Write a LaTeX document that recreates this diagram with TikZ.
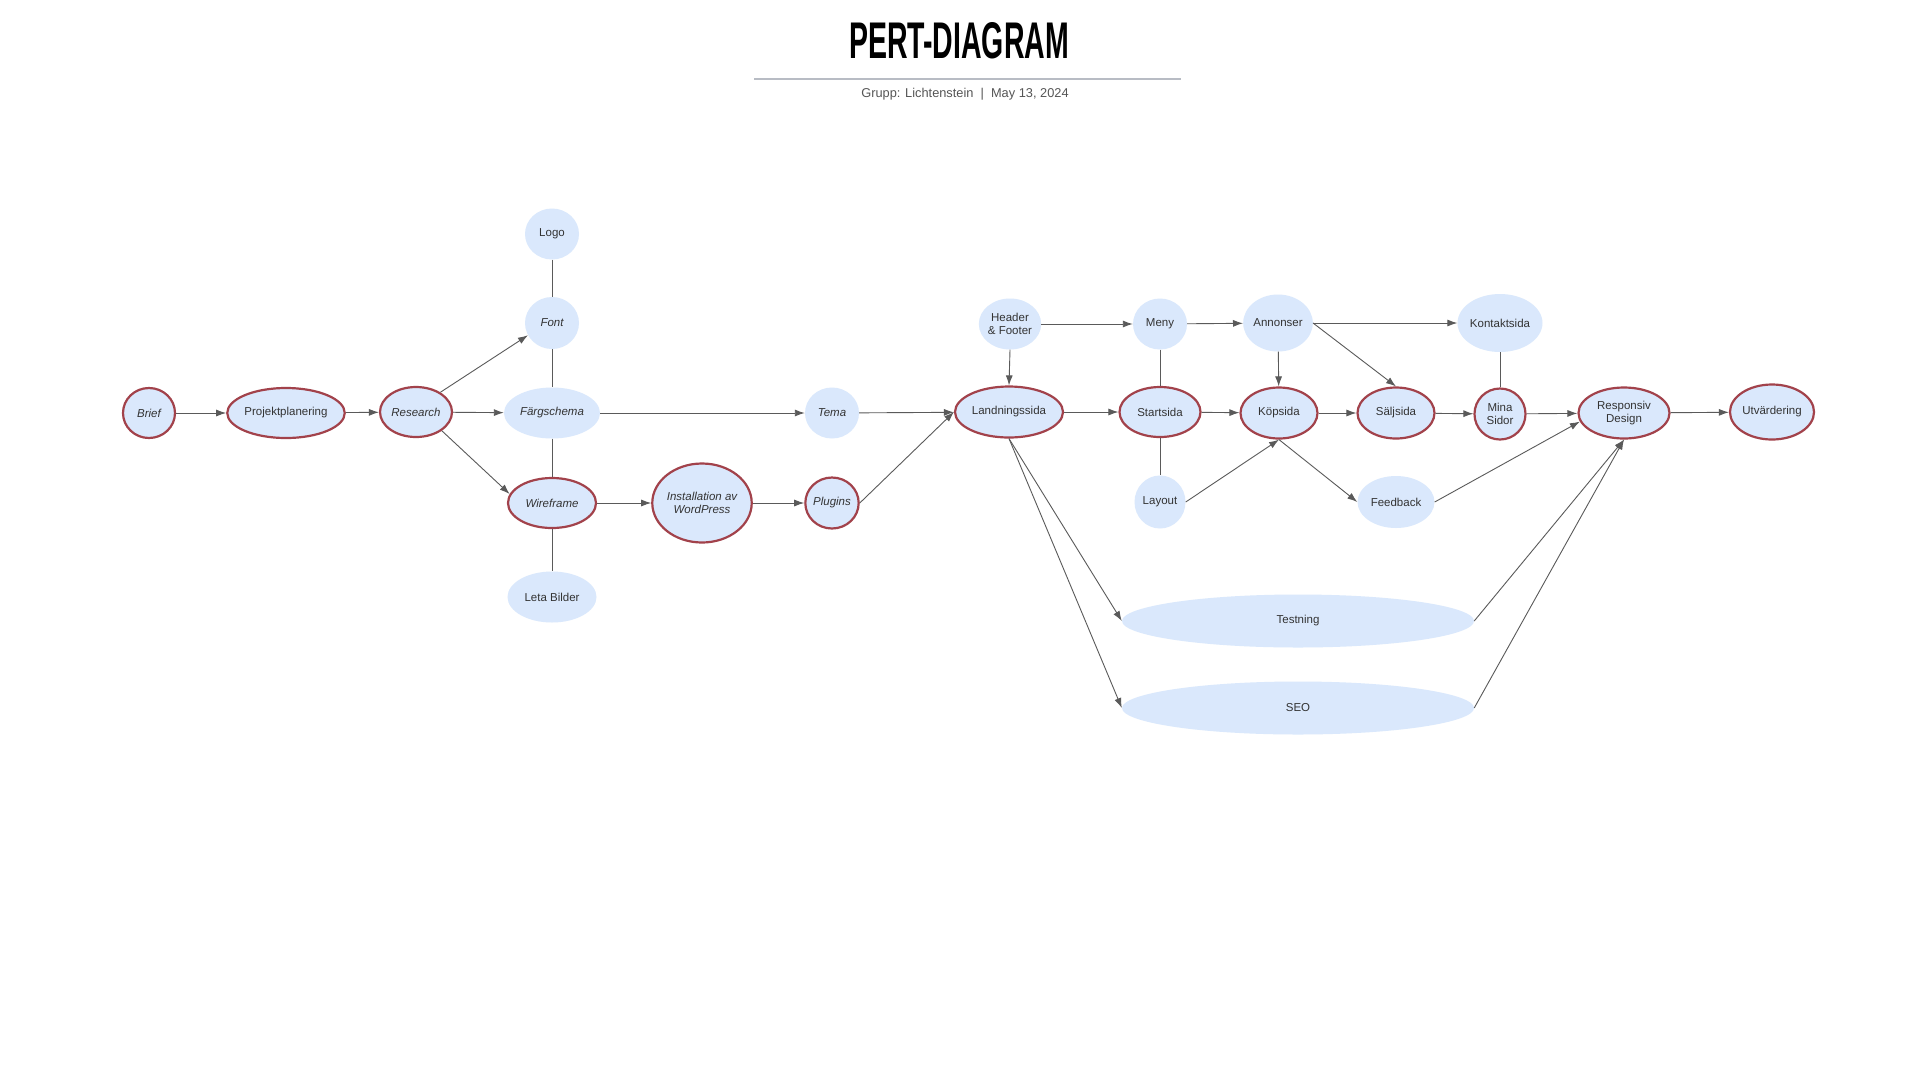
\documentclass[tikz,border=0pt]{standalone}
\usepackage{fontspec}
\setmainfont{Liberation Sans}
\usetikzlibrary{shapes.geometric,arrows.meta}
\definecolor{fillb}{HTML}{DAE8FC}
\definecolor{critred}{HTML}{A2424B}
\definecolor{txt}{HTML}{333333}
\definecolor{edgec}{HTML}{5A5A5A}
\definecolor{rulec}{HTML}{B8BCC4}
\definecolor{subc}{HTML}{555555}
\begin{document}
\begin{tikzpicture}[x=1pt,y=-1pt,
  base/.style={ellipse, fill=fillb, inner sep=0pt, text=txt, align=center,
    font=\fontsize{11.5}{13.5}\selectfont},
  crit/.style={base, draw=critred, line width=2.2pt},
  soft/.style={base},
  it/.style={font=\fontsize{11.5}{13.5}\selectfont\itshape},
  sz/.style 2 args={minimum width=#1, minimum height=#2},
  arr/.style={draw=edgec, line width=0.9pt, -{Latex[length=10pt,width=7pt]}},
  ln/.style={draw=edgec, line width=0.9pt},
]
\fill[white] (0,0) rectangle (1920,1080);
\useasboundingbox (0,0) rectangle (1920,1080);

% title
\node[inner sep=0pt] (title) at (959,41) {\resizebox{220pt}{36pt}{\bfseries PERT-DIAGRAM}};
\draw[rulec, line width=1.2pt] (754,79) -- (1181,79);
\node[inner sep=0pt, text=subc, font=\fontsize{12.8}{15}\selectfont] (sub) at (965,94) {Grupp: Lichtenstein\ \ |\ \ May 13, 2024};

% nodes
\node[crit, it, sz={52}{50}] (brief) at (149,413) {Brief};
\node[crit, sz={108}{50}] (proj) at (286,413) {Projektplanering};
\node[crit, it, sz={72}{50}] (res) at (416,412) {Research};
\node[soft, sz={54}{51}] (logo) at (552,234) {Logo};
\node[soft, it, sz={54}{52}] (font) at (552,323) {Font};
\node[soft, it, sz={96}{51}] (farg) at (552,413) {Färgschema};
\node[crit, it, sz={88}{50}] (wire) at (552,503) {Wireframe};
\node[soft, sz={89}{51}] (leta) at (552,597) {Leta Bilder};
\node[crit, it, sz={94}{79}] (inst) at (702,503) {Installation av\\WordPress};
\node[soft, it, sz={54}{51}] (tema) at (832,413) {Tema};
\node[crit, it, sz={53}{51}] (plug) at (832,503) {Plugins};
\node[crit, sz={108}{51}] (land) at (1009,412) {Landningssida};
\node[soft, sz={54}{51}] (head) at (1010,324) {Header\\\& Footer};
\node[soft, sz={54}{51}] (meny) at (1160,324) {Meny};
\node[soft, sz={65}{57}] (ann) at (1278,323) {Annonser};
\node[soft, sz={78}{58}] (kont) at (1500,323) {Kontaktsida};
\node[crit, sz={81}{50}] (start) at (1160,412) {Startsida};
\node[crit, sz={77}{51}] (kop) at (1279,413) {Köpsida};
\node[crit, sz={77}{51}] (salj) at (1396,413) {Säljsida};
\node[crit, sz={51}{51}] (mina) at (1500,414) {Mina\\Sidor};
\node[soft, sz={51}{53}] (layout) at (1160,502) {Layout};
\node[soft, sz={77}{52}] (feed) at (1396,502) {Feedback};
\node[crit, sz={91}{51}] (resp) at (1624,413) {Responsiv\\Design};
\node[crit, sz={77}{55}] (utv) at (1772,412) {Utvärdering};
\node[soft, sz={352}{53}] (test) at (1298,621) {Testning};
\node[soft, sz={352}{53}] (seo) at (1298,708) {SEO};

% connectors
\draw[arr] (brief) -- (proj);
\draw[arr] (proj) -- (res);
\draw[arr] (res.39) -- (font.207);
\draw[arr] (res) -- (farg);
\draw[arr] (res.324) -- (wire.168);
\draw[ln] (logo) -- (font);
\draw[ln] (font) -- (farg);
\draw[ln] (farg) -- (wire);
\draw[ln] (wire) -- (leta);
\draw[arr] (farg) -- (tema);
\draw[arr] (wire) -- (inst);
\draw[arr] (inst) -- (plug);
\draw[arr] (tema) -- (land);
\draw[arr] (plug.east) -- (land.west);
\draw[arr] (head.south) -- (land.north);
\draw[arr] (head) -- (meny);
\draw[arr] (meny) -- (ann);
\draw[arr] (ann) -- (kont);
\draw[arr] (ann) -- (kop);
\draw[arr] (ann.east) -- (salj.north);
\draw[ln] (meny) -- (start);
\draw[ln] (start) -- (layout);
\draw[arr] (land) -- (start);
\draw[arr] (start) -- (kop);
\draw[arr] (kop) -- (salj);
\draw[arr] (salj) -- (mina);
\draw[arr] (layout.east) -- (kop.south);
\draw[arr] (kop.south) -- (feed.west);
\draw[ln] (kont) -- (mina);
\draw[arr] (mina) -- (resp);
\draw[arr] (feed.east) -- (resp.191);
\draw[arr] (land.south) -- (test.west);
\draw[arr] (land.south) -- (seo.west);
\draw[arr] (test.east) -- (resp.south);
\draw[arr] (seo.east) -- (resp.south);
\draw[arr] (resp) -- (utv);
\end{tikzpicture}
\end{document}
